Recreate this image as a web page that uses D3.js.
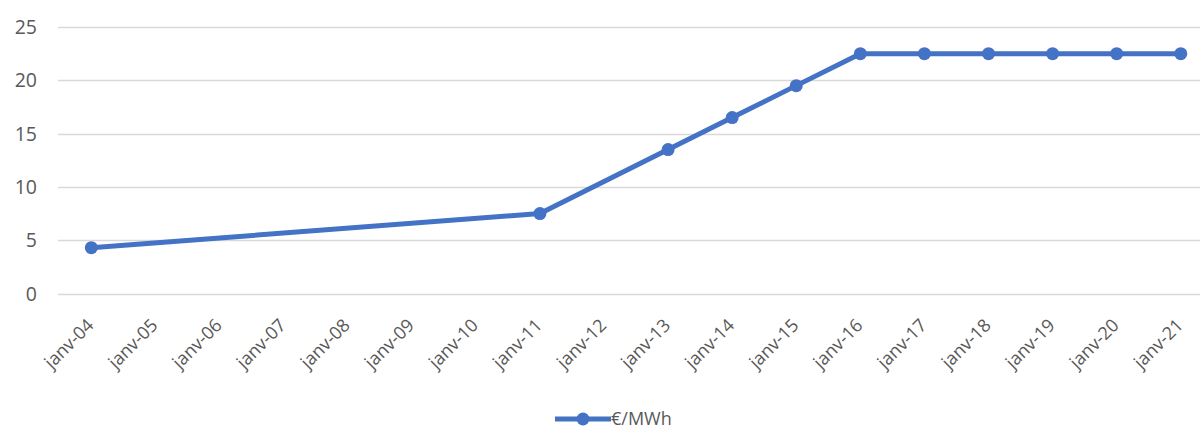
<!DOCTYPE html>
<html>
<head>
<meta charset="utf-8">
<script src="https://cdn.jsdelivr.net/npm/d3@7"></script>
<style>
  body { margin: 0; background: #fff; }
  text { font-family: "Open Sans", sans-serif; fill: #595959; }
</style>
</head>
<body>
<div id="chart"></div>
<script>
// data
var tickYears = d3.range(2004, 2022)
var tickLabels = tickYears.map(y => 'janv-' + String(y).slice(2))
var years = [2004, 2011, 2013, 2014, 2015, 2016, 2017, 2018, 2019, 2020, 2021]
var prices = [4.3, 7.5, 13.5, 16.5, 19.5, 22.5, 22.5, 22.5, 22.5, 22.5, 22.5]
var yTicks = [0, 5, 10, 15, 20, 25]
var seriesName = '€/MWh'

var width = 1203
var height = 429
var margin = { top: 27, left: 58, right: 3, bottom: 135.5 }

var svg = d3
  .select('#chart')
  .append('svg')
  .attr('width', width)
  .attr('height', height)

var x = d3.scaleLinear()
  .domain([2003.48, 2021.3])
  .range([margin.left, width - margin.right])

var y = d3.scaleLinear()
  .domain([0, 25])
  .range([height - margin.bottom, margin.top])

// gridlines
svg.append('g')
  .selectAll('line')
  .data(yTicks)
  .enter()
  .append('line')
  .attr('x1', margin.left)
  .attr('x2', width - margin.right)
  .attr('y1', d => Math.round(y(d)) + 0.5)
  .attr('y2', d => Math.round(y(d)) + 0.5)
  .attr('stroke', '#d9d9d9')
  .attr('stroke-width', 1.3)

// y labels
svg.append('g')
  .selectAll('text')
  .data(yTicks)
  .enter()
  .append('text')
  .attr('x', 37)
  .attr('y', d => y(d))
  .attr('dy', '0.36em')
  .attr('text-anchor', 'end')
  .style('font-size', '19.5px')
  .text(d => d)

// x labels, rotated
svg.append('g')
  .selectAll('text')
  .data(tickYears)
  .enter()
  .append('text')
  .attr('transform', (d, i) => 'translate(' + (x(d) - 1) + ',' + 322 + ') rotate(-45)')
  .attr('text-anchor', 'end')
  .attr('dy', '0.35em')
  .style('font-size', '18px')
  .text((d, i) => tickLabels[i])

var line = d3.line()
  .x((d, i) => x(years[i]))
  .y(d => y(d))

svg.append('path')
  .datum(prices)
  .attr('d', line)
  .attr('fill', 'none')
  .attr('stroke', '#4472c4')
  .attr('stroke-width', 5)
  .attr('stroke-linejoin', 'round')

svg.append('g')
  .selectAll('circle')
  .data(prices)
  .enter()
  .append('circle')
  .attr('cx', (d, i) => x(years[i]))
  .attr('cy', d => y(d))
  .attr('r', 6.5)
  .attr('fill', '#4472c4')

// legend
var legend = svg.append('g').attr('transform', 'translate(555,419)')
legend.append('line')
  .attr('x1', 0).attr('x2', 56)
  .attr('stroke', '#4472c4')
  .attr('stroke-width', 5)
legend.append('circle')
  .attr('cx', 28).attr('r', 6.5)
  .attr('fill', '#4472c4')
legend.append('text')
  .attr('x', 56)
  .attr('dy', '0.34em')
  .style('font-size', '18px')
  .text(seriesName)
</script>
</body>
</html>
